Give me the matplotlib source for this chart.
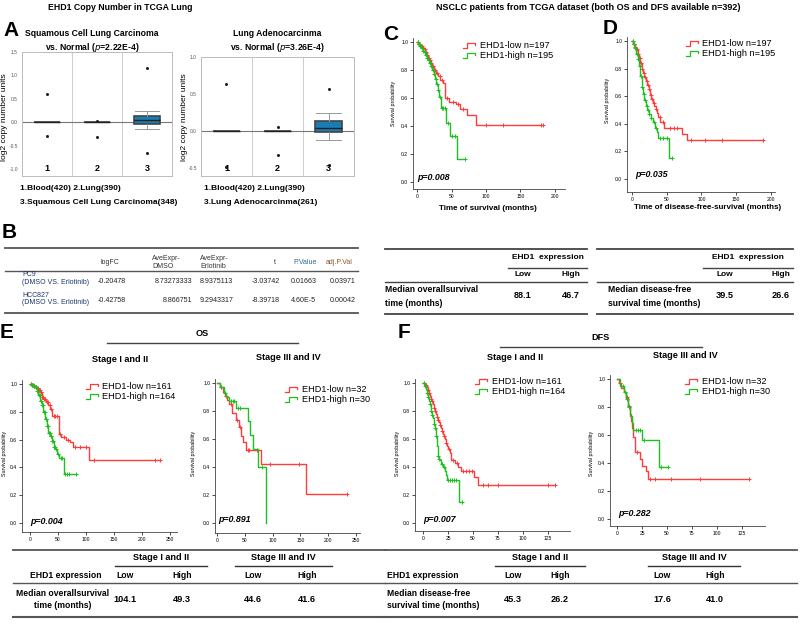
import numpy as np
import matplotlib
matplotlib.use("Agg")
import matplotlib.pyplot as plt
from matplotlib.lines import Line2D
from matplotlib.legend_handler import HandlerBase

plt.rcParams["font.family"] = ["Liberation Sans", "DejaVu Sans"]

W, H = 800, 627
RED = "#ff3b3b"
GREEN = "#1fbf1f"
BLUE = "#1b7db5"

# ---- A: copy number box plots ----
sq_med = [0.0, 0.0, 0.055]
sq_q1 = [0.0, 0.0, -0.04]
sq_q3 = [0.0, 0.0, 0.13]
sq_lo = [0.0, 0.0, -0.14]
sq_hi = [0.0, 0.0, 0.24]
sq_fliers = [[0.6, -0.3], [0.03, -0.31], [1.15, -0.655]]

ad_med = [0.0, 0.0, 0.045]
ad_q1 = [0.0, 0.0, -0.02]
ad_q3 = [0.0, 0.0, 0.13]
ad_lo = [0.0, 0.0, -0.12]
ad_hi = [0.0, 0.0, 0.24]
ad_fliers = [[0.63, -0.49], [0.05, -0.32], [0.57, -0.46]]

# ---- B: table ----
b_cols = ["logFC", "AveExpr-\nDMSO", "AveExpr-\nErlotinib", "t", "P.Value", "adj.P.Val"]
b_rows = ["PC9", "HCC827"]
b_vals = [["-0.20478", "8.73273333", "8.9375113", "-3.03742", "0.01663", "0.03971"],
          ["-0.42758", "8.866751", "9.2943317", "-8.39718", "4.60E-5", "0.00042"]]

# ---- C-F: Kaplan-Meier curves (event times, survival after event, censor times) ----
c_low_t = [2, 4, 6, 8, 10, 12, 14, 16, 18, 20, 22, 25, 28, 31, 34, 37, 41, 47, 57, 62, 72, 86]
c_low_s = [0.99, 0.98, 0.97, 0.96, 0.95, 0.93, 0.91, 0.89, 0.87, 0.85, 0.83, 0.80, 0.78, 0.76, 0.73, 0.71,
           0.60, 0.575, 0.555, 0.525, 0.48, 0.41]
c_low_c = [1, 3, 5, 7, 9, 11, 13, 15, 17, 19, 21, 23, 26, 29, 33, 36, 44, 52, 60, 66, 100, 125, 180, 183]
c_high_t = [2, 4, 6, 8, 10, 12, 14, 16, 18, 20, 22, 24, 26, 28, 30, 32, 35, 42, 48, 58]
c_high_s = [0.99, 0.97, 0.96, 0.94, 0.93, 0.91, 0.89, 0.87, 0.85, 0.83, 0.80, 0.77, 0.74, 0.70, 0.66, 0.61,
            0.53, 0.42, 0.33, 0.165]
c_high_c = [1, 3, 5, 7, 9, 11, 13, 15, 17, 19, 21, 23, 25, 27, 29, 31, 33, 36, 38, 40, 45, 50, 55, 69]

d_low_t = [2, 4, 6, 8, 10, 12, 14, 16, 18, 20, 22, 24, 26, 28, 30, 32, 34, 36, 38, 41, 46, 72, 79]
d_low_s = [0.98, 0.96, 0.94, 0.91, 0.88, 0.84, 0.80, 0.77, 0.74, 0.71, 0.68, 0.65, 0.61, 0.58, 0.55, 0.53,
           0.51, 0.48, 0.45, 0.41, 0.37, 0.33, 0.28]
d_low_c = [1, 3, 5, 7, 9, 11, 13, 15, 17, 19, 21, 23, 25, 27, 29, 31, 35, 40, 44, 55, 60, 65, 85, 105, 130, 189]
d_high_t = [2, 4, 6, 8, 10, 12, 14, 16, 18, 20, 22, 24, 27, 30, 33, 36, 38, 53]
d_high_s = [0.98, 0.95, 0.91, 0.87, 0.82, 0.75, 0.67, 0.62, 0.57, 0.53, 0.50, 0.47, 0.44, 0.41, 0.37, 0.34,
            0.30, 0.15]
d_high_c = [1, 3, 5, 7, 9, 11, 13, 15, 17, 19, 21, 23, 25, 28, 31, 35, 40, 45, 50, 58]

e1_low_t = [3, 6, 9, 12, 15, 18, 21, 24, 28, 33, 36, 39, 51, 55, 65, 71, 76, 106]
e1_low_s = [0.995, 0.99, 0.98, 0.97, 0.96, 0.94, 0.91, 0.89, 0.87, 0.85, 0.82, 0.77, 0.64, 0.62, 0.60, 0.58,
            0.55, 0.455]
e1_low_c = [2, 4, 5, 7, 8, 10, 11, 13, 14, 16, 17, 19, 20, 22, 23, 25, 26, 30, 32, 35, 38, 42, 45, 48, 53, 60,
            68, 80, 90, 100, 115, 224, 232]
e1_high_t = [3, 6, 9, 12, 15, 18, 21, 24, 27, 30, 33, 36, 39, 42, 45, 48, 51, 61]
e1_high_s = [0.995, 0.99, 0.98, 0.95, 0.92, 0.88, 0.85, 0.80, 0.75, 0.70, 0.65, 0.63, 0.59, 0.55, 0.53, 0.50,
             0.465, 0.35]
e1_high_c = [2, 4, 5, 7, 8, 10, 11, 13, 14, 16, 17, 19, 20, 22, 23, 25, 26, 28, 29, 31, 32, 34, 35, 37, 38,
             40, 41, 43, 44, 47, 50, 55, 58, 63, 66, 70, 83]

e2_low_t = [5, 10, 14, 18, 22, 27, 34, 40, 44, 47, 52, 79, 160]
e2_low_s = [0.97, 0.94, 0.91, 0.88, 0.85, 0.79, 0.74, 0.69, 0.62, 0.58, 0.525, 0.42, 0.21]
e2_low_c = [8, 16, 25, 36, 42, 55, 58, 72, 95, 148, 233]
e2_high_t = [6, 12, 17, 22, 35, 56, 60, 65, 74, 88]
e2_high_s = [0.97, 0.93, 0.90, 0.87, 0.82, 0.73, 0.63, 0.53, 0.40, 0.0]
e2_high_c = [8, 15, 25, 28, 31, 38, 42, 80]

f1_low_t = [2, 4, 5, 6, 7, 8, 9, 10, 11, 12, 13, 14, 15, 16, 17, 18, 19, 20, 21, 22, 23, 24, 25, 27, 28, 32,
            35, 38, 51, 55]
f1_low_s = [0.99, 0.97, 0.95, 0.93, 0.91, 0.89, 0.87, 0.85, 0.82, 0.80, 0.78, 0.76, 0.74, 0.72, 0.70, 0.68,
            0.66, 0.64, 0.62, 0.60, 0.57, 0.55, 0.53, 0.50, 0.45, 0.43, 0.40, 0.375, 0.33, 0.27]
f1_low_c = [1, 3, 5, 6, 8, 9, 11, 12, 14, 15, 17, 19, 21, 23, 26, 30, 34, 40, 43, 46, 49, 60, 65, 75, 125, 132]
f1_high_t = [2, 3, 4, 5, 6, 7, 8, 9, 10, 11, 12, 13, 14, 15, 16, 17, 18, 20, 22, 23, 24, 36]
f1_high_s = [0.98, 0.96, 0.93, 0.90, 0.87, 0.85, 0.80, 0.77, 0.75, 0.71, 0.68, 0.62, 0.55, 0.48, 0.46, 0.45,
             0.42, 0.40, 0.37, 0.34, 0.31, 0.15]
f1_high_c = [1, 2, 4, 5, 7, 8, 9, 11, 12, 13, 15, 16, 19, 21, 25, 27, 29, 31, 33, 39]

f2_low_t = [2, 4, 7, 9, 11, 13, 14, 15, 16, 18, 23, 25, 29, 31]
f2_low_s = [0.97, 0.94, 0.91, 0.875, 0.81, 0.75, 0.70, 0.65, 0.59, 0.48, 0.43, 0.38, 0.34, 0.285]
f2_low_c = [3, 10, 12, 20, 33, 38, 54, 83, 132]
f2_high_t = [3, 7, 9, 11, 13, 15, 16, 25, 42]
f2_high_s = [0.95, 0.91, 0.86, 0.80, 0.74, 0.69, 0.635, 0.565, 0.375]
f2_high_c = [6, 8, 10, 12, 19, 21, 23, 27, 44, 51]

# ---- median survival tables ----
os_all = ["88.1", "46.7"]
dfs_all = ["39.5", "26.6"]
os_stage = ["104.1", "49.3", "44.6", "41.6"]
dfs_stage = ["45.3", "26.2", "17.6", "41.0"]

fig = plt.figure(figsize=(8, 6.27), dpi=100)


def rect(x0, y0, x1, y1):
    return [x0 / W, 1 - y1 / H, (x1 - x0) / W, (y1 - y0) / H]


def txt(x, y, s, size=6.5, ha="center", va="center", **kw):
    fig.text(x / W, 1 - y / H, s, fontsize=size, ha=ha, va=va, **kw)


def hline(x0, x1, y, lw=1.0, color="#333333"):
    fig.add_artist(Line2D([x0 / W, x1 / W], [1 - y / H, 1 - y / H], transform=fig.transFigure,
                          color=color, lw=lw))


class StepHandler(HandlerBase):
    # little step-shaped legend key, as in the survival plots
    def create_artists(self, legend, orig_handle, xdescent, ydescent, width, height, fontsize, trans):
        xs = np.array([0.0, 0.3, 0.3, 0.9, 0.9]) * width - xdescent
        ys = np.array([0.05, 0.05, 0.85, 0.85, 0.45]) * height - ydescent
        return [Line2D(xs, ys, color=orig_handle.get_color(), lw=orig_handle.get_linewidth(), transform=trans)]


# ---------------- A ----------------
txt(120, 8, "EHD1 Copy Number in TCGA Lung", 6.3, weight="bold")
txt(3, 30, "A", 15, ha="left", weight="bold")


def copy_box(x0, y0, x1, y1, ylim, yticks, med, q1, q3, lo, hi, fliers):
    ax = fig.add_axes(rect(x0, y0, x1, y1))
    stats = []
    for i in range(3):
        stats.append(dict(med=med[i], q1=q1[i], q3=q3[i], whislo=lo[i], whishi=hi[i], fliers=fliers[i]))
    ax.axhline(0, color="#777777", lw=0.8, zorder=1)
    for xv in [1.5, 2.5]:
        ax.axvline(xv, color="#cccccc", lw=0.7, zorder=0)
    ax.bxp(stats, positions=[1, 2, 3], widths=0.52, capwidths=0.48, patch_artist=True,
           boxprops=dict(facecolor=BLUE, edgecolor="#444444", lw=1.2),
           medianprops=dict(color="#222222", lw=1.0),
           whiskerprops=dict(color="#999999", lw=0.7),
           capprops=dict(color="#999999", lw=0.7),
           flierprops=dict(marker="o", ms=1.2, mfc="#222222", mec="#222222"))
    ax.set_xlim(0.5, 3.5)
    ax.set_ylim(*ylim)
    ax.set_yticks(yticks)
    ax.set_yticklabels(["%.1f" % v for v in yticks], fontsize=3.5, color="#555555")
    ax.tick_params(axis="y", length=0, pad=3)
    ax.set_xticks([])
    for k in range(3):
        ax.text(k + 1, 0.025, str(k + 1), transform=ax.get_xaxis_transform(), ha="center", va="bottom",
                fontsize=6.5, weight="bold")
    for sp in ax.spines.values():
        sp.set_color("#bbbbbb")
        sp.set_linewidth(0.7)
    return ax


copy_box(22, 52, 172, 176, (-1.15, 1.5), [-1.0, -0.5, 0.0, 0.5, 1.0, 1.5],
         sq_med, sq_q1, sq_q3, sq_lo, sq_hi, sq_fliers)
copy_box(201, 57, 354, 176, (-0.61, 1.0), [-0.5, 0.0, 0.5, 1.0],
         ad_med, ad_q1, ad_q3, ad_lo, ad_hi, ad_fliers)
txt(5, 117, "log2 copy number units", 6.0, rotation=90)
txt(185, 117, "log2 copy number units", 6.0, rotation=90)
txt(92, 33, "Squamous Cell Lung Carcinoma", 6.2, weight="bold")
txt(92, 48, "vs. Normal ($\\mathit{p}$=2.22E-4)", 6.2, weight="bold")
txt(277, 33, "Lung Adenocarcinma", 6.2, weight="bold")
txt(277, 48, "vs. Normal ($\\mathit{p}$=3.26E-4)", 6.2, weight="bold")
txt(20, 188, "1.Blood(420) 2.Lung(390)", 6.0, ha="left", weight="bold")
txt(20, 202, "3.Squamous Cell Lung Carcinoma(348)", 6.0, ha="left", weight="bold")
txt(204, 188, "1.Blood(420) 2.Lung(390)", 6.0, ha="left", weight="bold")
txt(204, 202, "3.Lung Adenocarcinma(261)", 6.0, ha="left", weight="bold")

# ---------------- B ----------------
txt(2, 232, "B", 15, ha="left", weight="bold")
hline(5, 358, 248, 1.3, "#555555")
hline(5, 358, 271, 1.0, "#555555")
hline(5, 358, 313, 1.3, "#555555")
head_x = [110, 152, 200, 275, 305, 339]
head_ha = ["center", "left", "left", "center", "center", "center"]
head_col = ["#333333", "#333333", "#333333", "#333333", "#2b6a9a", "#8a5a2b"]
for j, name in enumerate(b_cols):
    txt(head_x[j], 262, name, 5.0, ha=head_ha[j], color=head_col[j], linespacing=1.2)
val_x = [98, 192, 200, 280, 291, 330]
val_ha = ["left", "right", "left", "right", "left", "left"]
for i, row in enumerate(b_rows):
    yb = 275 + i * 20
    txt(22, yb, row, 5.0, ha="left", color="#1c3766")
    txt(22, yb + 8, "(DMSO VS. Erlotinib)", 5.0, ha="left", color="#1c3766")
    for j, v in enumerate(b_vals[i]):
        txt(val_x[j], yb + 6, v, 5.1, ha=val_ha[j], color="#222222")

# ---------------- C, D ----------------
txt(588, 8, "NSCLC patients from TCGA dataset (both OS and DFS available n=392)", 6.5, weight="bold")
txt(391, 34, "C", 15, weight="bold")
txt(610, 29, "D", 15, weight="bold")


def km_curve(ax, events, surv, censor, color):
    t = np.r_[0, events]
    s = np.r_[1.0, surv]
    end = max(censor[-1], events[-1])
    ax.step(np.r_[t, end], np.r_[s, s[-1]], where="post", color=color, lw=1.0)
    idx = np.searchsorted(t, censor, side="right") - 1
    ax.plot(censor, s[idx], ls="none", marker="+", ms=3.5, mew=0.7, color=color)


def km_axes(x0, y0, x1, y1, xlim, ylim, xticks, low, high, labels, pval, leg_xy, p_xy):
    ax = fig.add_axes(rect(x0, y0, x1, y1))
    km_curve(ax, *low, RED)
    km_curve(ax, *high, GREEN)
    ax.set_xlim(*xlim)
    ax.set_ylim(*ylim)
    ax.set_xticks(xticks)
    ax.set_xticklabels([str(v) for v in xticks])
    yt = [0.0, 0.2, 0.4, 0.6, 0.8, 1.0]
    ax.set_yticks(yt)
    ax.set_yticklabels(["%.1f" % v for v in yt])
    ax.tick_params(length=2, width=0.5, labelsize=3.6, pad=1.5)
    for sp in ["top", "right"]:
        ax.spines[sp].set_visible(False)
    for sp in ["left", "bottom"]:
        ax.spines[sp].set_linewidth(0.6)
        ax.spines[sp].set_color("#444444")
    handles = [Line2D([], [], color=RED, lw=0.9), Line2D([], [], color=GREEN, lw=0.9)]
    fig.legend(handles, labels, loc="upper left", bbox_to_anchor=(leg_xy[0] / W, 1 - leg_xy[1] / H),
               frameon=False, fontsize=6.6, handlelength=1.4, handletextpad=0.4, borderpad=0,
               borderaxespad=0, labelspacing=0.15, handler_map={Line2D: StepHandler()})
    txt(p_xy[0], p_xy[1], pval, 6.4, ha="left", weight="bold", style="italic")
    return ax


km_axes(413, 38, 565, 189, (-5.8, 214.5), (-0.05, 1.03), [0, 50, 100, 150, 200],
        (c_low_t, c_low_s, c_low_c), (c_high_t, c_high_s, c_high_c),
        ["EHD1-low n=197", "EHD1-high n=195"], "p=0.008", (463, 41), (417, 177))
txt(393, 103, "Survival probability", 3.8, rotation=90)
txt(488, 209, "Time of survival (months)", 5.8, weight="bold")

km_axes(627, 37, 775, 192, (-7.2, 206), (-0.094, 1.03), [0, 50, 100, 150, 200],
        (d_low_t, d_low_s, d_low_c), (d_high_t, d_high_s, d_high_c),
        ["EHD1-low n=197", "EHD1-high n=195"], "p=0.035", (686, 39), (635, 175))
txt(607, 100, "Survival probability", 3.8, rotation=90)
txt(708, 207, "Time of disease-free-survival (months)", 5.8, weight="bold")

# middle tables
for (xa, xb, xu, lo_x, hi_x, vals, lab1, lab2, lab_x, lab_ha) in [
        (385, 587, 508, 523, 571, os_all, "Median overallsurvival", "time (months)", 385, "left"),
        (597, 793, 703, 725, 781, dfs_all, "Median disease-free", "survival time (months)", 608, "left")]:
    hline(xa, xb, 249, 1.3, "#444444")
    hline(xu, xb, 268, 1.0, "#444444")
    hline(xa, xb, 282, 1.0, "#444444")
    hline(xa, xb, 314, 1.3, "#444444")
    txt((xu + xb) / 2, 258, "EHD1  expression", 6.0, weight="bold")
    txt(lo_x, 275, "Low", 6.0, weight="bold")
    txt(hi_x, 275, "High", 6.0, weight="bold")
    txt(lab_x, 290, lab1, 6.2, ha=lab_ha, weight="bold")
    txt(lab_x, 303, lab2, 6.2, ha=lab_ha, weight="bold")
    txt(lo_x, 296, vals[0], 6.6, weight="bold")
    txt(hi_x, 296, vals[1], 6.6, weight="bold")

# ---------------- E, F ----------------
txt(0, 333, "E", 15, ha="left", weight="bold")
txt(398, 333, "F", 15, ha="left", weight="bold")
txt(202, 333, "OS", 6.6, weight="bold")
hline(107, 298, 343, 1.0, "#444444")
txt(601, 337, "DFS", 6.6, weight="bold")
hline(500, 702, 347, 1.0, "#444444")
txt(120, 360, "Stage I and II", 6.6, weight="bold")
txt(288, 358, "Stage III and IV", 6.6, weight="bold")
txt(515, 358, "Stage I and II", 6.6, weight="bold")
txt(685, 356, "Stage III and IV", 6.6, weight="bold")

km_axes(22, 380, 177, 532, (-14.3, 262.5), (-0.065, 1.03), [0, 50, 100, 150, 200, 250],
        (e1_low_t, e1_low_s, e1_low_c), (e1_high_t, e1_high_s, e1_high_c),
        ["EHD1-low n=161", "EHD1-high n=164"], "p=0.004", (86, 382), (30, 522))
txt(5, 453, "Survival probability", 3.8, rotation=90)
km_axes(215, 379, 360, 533, (-3.6, 257), (-0.071, 1.03), [0, 50, 100, 150, 200, 250],
        (e2_low_t, e2_low_s, e2_low_c), (e2_high_t, e2_high_s, e2_high_c),
        ["EHD1-low n=32", "EHD1-high n=30"], "p=0.891", (285, 385), (218, 520))
txt(193, 453, "Survival probability", 3.8, rotation=90)
km_axes(415, 379, 570, 531, (-8, 147), (-0.057, 1.03), [0, 25, 50, 75, 100, 125],
        (f1_low_t, f1_low_s, f1_low_c), (f1_high_t, f1_high_s, f1_high_c),
        ["EHD1-low n=161", "EHD1-high n=164"], "p=0.007", (475, 377), (423, 520))
txt(398, 453, "Survival probability", 3.8, rotation=90)
km_axes(610, 375, 765, 526, (-7, 148), (-0.05, 1.03), [0, 25, 50, 75, 100, 125],
        (f2_low_t, f2_low_s, f2_low_c), (f2_high_t, f2_high_s, f2_high_c),
        ["EHD1-low n=32", "EHD1-high n=30"], "p=0.282", (685, 377), (618, 513))
txt(592, 453, "Survival probability", 3.8, rotation=90)

# bottom tables
for (xa, xb, u1, u2, cols, vals, lab1, lab2, lab_x, lab_ha, head_x) in [
        (13, 385, (115, 207), (235, 332), [125, 182, 253, 307], os_stage,
         "Median overallsurvival", "time (months)", 63, "center", 66),
        (385, 797, (495, 585), (648, 740), [513, 560, 662, 715], dfs_stage,
         "Median disease-free", "survival time (months)", 387, "left", 387)]:
    hline(xa, xb, 550, 1.3, "#555555")
    hline(u1[0], u1[1], 566, 1.0, "#333333")
    hline(u2[0], u2[1], 566, 1.0, "#333333")
    hline(xa, xb, 583, 1.0, "#555555")
    hline(xa, xb, 617, 1.5, "#555555")
    txt(sum(u1) / 2, 558, "Stage I and II", 6.6, weight="bold")
    txt(sum(u2) / 2, 558, "Stage III and IV", 6.6, weight="bold")
    txt(head_x, 575, "EHD1 expression", 6.2, ha=lab_ha, weight="bold")
    for k, name in enumerate(["Low", "High", "Low", "High"]):
        txt(cols[k], 576, name, 6.2, weight="bold")
        txt(cols[k], 599, vals[k], 6.6, weight="bold")
    txt(lab_x, 593, lab1, 6.2, ha=lab_ha, weight="bold")
    txt(lab_x, 606, lab2, 6.2, ha=lab_ha, weight="bold")

fig.savefig("out.png", dpi=100)
